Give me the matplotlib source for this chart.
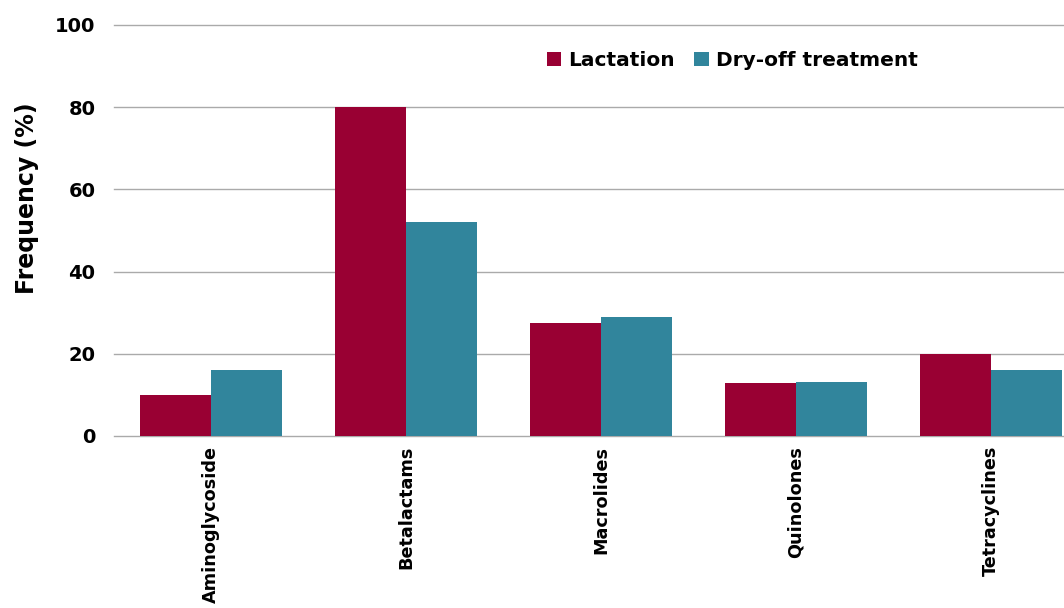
import matplotlib
matplotlib.use("Agg")
import matplotlib.pyplot as plt
import numpy as np

categories = ["Aminoglycoside", "Betalactams", "Macrolides", "Quinolones", "Tetracyclines"]
lactation = [10, 80, 27.6, 12.8, 20]
dry_off = [16, 52, 28.9, 13.1, 16]
series_names = ["Lactation", "Dry-off treatment"]
y_ticks = [0, 20, 40, 60, 80, 100]

LACT_COLOR = "#990033"
DRY_COLOR = "#31859C"

plt.rcParams["font.family"] = ["DejaVu Sans"]
plt.rcParams["font.weight"] = "bold"

fig = plt.figure(figsize=(10.64, 6.08), dpi=100)
ax = fig.add_axes([0.1067, 0.2829, 0.8933, 0.676])

x = np.arange(len(categories))
w = 0.362
ax.bar(x - w / 2, lactation, width=w, color=LACT_COLOR, label=series_names[0], zorder=3)
ax.bar(x + w / 2, dry_off, width=w, color=DRY_COLOR, label=series_names[1], zorder=3)

ax.set_xlim(-0.5, 4.374)
ax.set_ylim(0, 100)
ax.set_yticks(y_ticks)
ax.set_yticklabels([str(v) for v in y_ticks], fontsize=14, fontweight="bold")
ax.set_xticks(x)
ax.set_xticklabels(categories, rotation=90, fontsize=12.7, fontweight="bold",
                   va="top", ha="center")
ax.tick_params(axis="both", length=0)
ax.tick_params(axis="y", pad=13)
ax.tick_params(axis="x", pad=7)

for v in y_ticks:
    ax.axhline(v, color="#aaaaaa", linewidth=1.0, zorder=1, clip_on=False)

for side in ["top", "right", "left", "bottom"]:
    ax.spines[side].set_visible(False)

ax.set_ylabel("Frequency (%)", fontsize=17, fontweight="bold")
ax.yaxis.set_label_coords(-0.078, 0.579)

fig.legend(loc="center", bbox_to_anchor=(0.688, 0.901), ncol=2, frameon=False,
           prop={"size": 14.5, "weight": "bold"}, handlelength=0.7, handleheight=0.7,
           handletextpad=0.35, columnspacing=1.0)

fig.savefig("out.png", dpi=100, facecolor="white")
